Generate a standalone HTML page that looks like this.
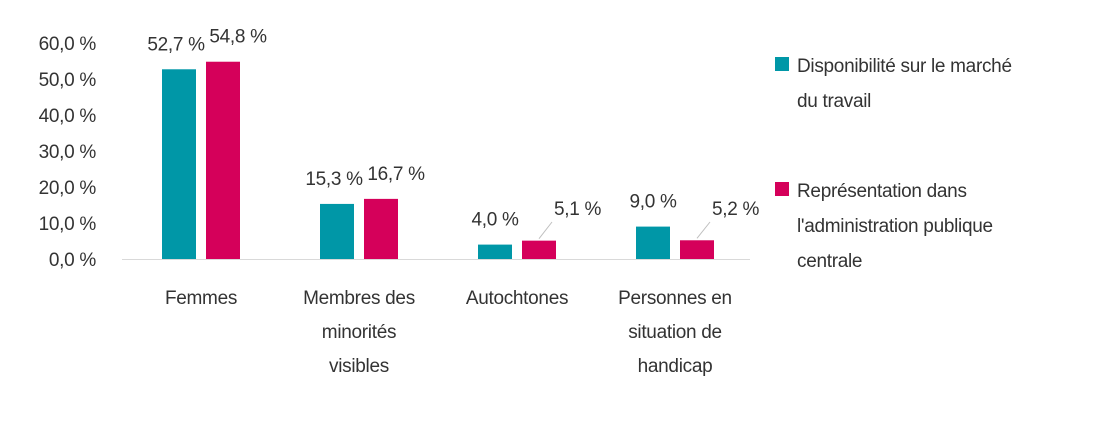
<!DOCTYPE html>
<html><head><meta charset="utf-8"><style>
body{margin:0;background:#fff;}
svg text{font-family:"Liberation Sans",sans-serif;font-size:19px;fill:#333;letter-spacing:-0.3px;}
</style></head><body>
<svg width="1117" height="423">
<g id="yaxis"></g><g id="bars"></g><g id="labels"></g>
<line x1="122" y1="259.5" x2="750" y2="259.5" stroke="#d9d9d9" stroke-width="1"/>
<g>
<rect x="775" y="57" width="14" height="14" fill="#0097a7"/>
<text x="797" y="72">Disponibilité sur le marché</text>
<text x="797" y="107">du travail</text>
<rect x="775" y="182" width="14" height="14" fill="#d5005a"/>
<text x="797" y="197">Représentation dans</text>
<text x="797" y="232">l'administration publique</text>
<text x="797" y="267">centrale</text>
</g>
</svg>
<script>
const categories=[["Femmes"],["Membres des","minorités","visibles"],["Autochtones"],["Personnes en","situation de","handicap"]];
const availability=[52.7,15.3,4.0,9.0];
const representation=[54.8,16.7,5.1,5.2];
const yTicks=[0,10,20,30,40,50,60];
const NS="http://www.w3.org/2000/svg";
const y0=259,pxPer=3.6;
function yS(v){return y0-v*pxPer;}
function xC(i){return 201+i*158;}
function fmt(v){return v.toFixed(1).replace('.',',')+' %';}
function mk(t,a,p){const e=document.createElementNS(NS,t);for(const k in a)e.setAttribute(k,a[k]);p.appendChild(e);return e;}
const ya=document.getElementById('yaxis'),bg=document.getElementById('bars'),lg=document.getElementById('labels');
yTicks.forEach(t=>{const e=mk('text',{x:96,y:yS(t)+7,'text-anchor':'end'},ya);e.textContent=fmt(t);

});
categories.forEach((c,i)=>{
 const cx=xC(i);
 const series=[[availability[i],cx-39,'#0097a7','bar-availability'],[representation[i],cx+5,'#d5005a','bar-representation']];
 series.forEach((s,j)=>{
  const r=mk('rect',{x:s[1],y:yS(s[0]),width:34,height:s[0]*pxPer,fill:s[2]},bg);
  
  
  let lx=s[1]+17,ly=yS(s[0])-19,anchor='middle';
  if(i<2){ lx = j===0 ? s[1]+14 : s[1]+32; }
  if(s[0]*pxPer<30 && j===1){
    lx=s[1]+32;ly=y0-44;anchor='start';
    const l=mk('line',{x1:s[1]+17,y1:yS(s[0])-2,x2:s[1]+30,y2:y0-37,stroke:'#bfbfbf'},lg);
    
    
  }
  const t=mk('text',{x:lx,y:ly,'text-anchor':anchor},lg);t.textContent=fmt(s[0]);
  
  
 });
 c.forEach((ln,k)=>{const t=mk('text',{x:cx,y:304+k*34,'text-anchor':'middle'},lg);t.textContent=ln;
 
 });
});
</script>
</body></html>
